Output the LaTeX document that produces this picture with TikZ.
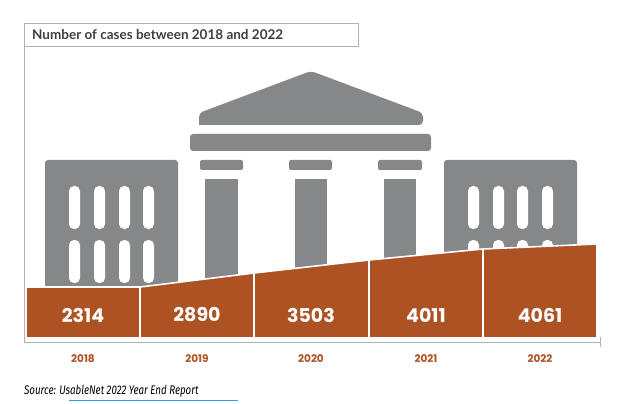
\documentclass[tikz,border=0pt]{standalone}
\usepackage{fontspec}
\setmainfont{Lato}
\newfontfamily\numfont{Poppins}
\newfontfamily\srcfont{Fira Sans}
\definecolor{bgray}{HTML}{858789}
\definecolor{rust}{HTML}{AD5223}
\definecolor{titlegray}{HTML}{3F3F3F}
\definecolor{linkblue}{HTML}{3C9BE0}
\begin{document}
\begin{tikzpicture}[x=1pt,y=-1pt,
  bld/.style={fill=bgray,draw=none},
  win/.style={fill=white,rounded corners=5pt},
  bar/.style={fill=rust,draw=white,line width=1.6pt,line join=miter},
  num/.style={text=white,font=\numfont\bfseries\fontsize{19}{20}\selectfont},
  yr/.style={text=rust,font=\numfont\bfseries\fontsize{10.5}{12}\selectfont},
  frame/.style={draw=black!30,line width=0.8pt}]
\useasboundingbox (0,0) rectangle (625,404);
% frame
\draw[frame] (24,46) -- (24,342) -- (600,342);
\draw[frame] (600,337) -- (600,347);
\node[frame,fill=white,anchor=north west,minimum width=334pt,minimum height=23pt,inner sep=0pt] (title) at (24,23) {};
\node[anchor=west,text=titlegray,font=\bfseries\fontsize{13.5}{15}\selectfont,inner sep=0pt] (ttext) at (32,35) {Number of cases between 2018 and 2022};
% central building
\fill[bld,rounded corners=4pt] (199,125) -- (199,113) -- (311,71) -- (423,113) -- (423,125) [sharp corners] -- cycle;
\fill[bld,rounded corners=3pt] (190,134) rectangle (431,151);
\foreach \a/\b in {200/243,289/332,378/422}{\fill[bld,rounded corners=2pt] (\a,160) rectangle (\b,170);}
\foreach \a/\b in {205/238,295/327,384/416}{\fill[bld] (\a,179) rectangle (\b,290);}
% left building
\fill[bld,rounded corners=3pt] (45,160) rectangle (178,292);
\foreach \a in {69,94,119,143}{
  \fill[win] (\a,186) rectangle (\a+11,229);
  \fill[win] (\a,240) rectangle (\a+11,283);}
% right building
\fill[bld,rounded corners=3pt] (444,160) rectangle (577,260);
\foreach \a in {468,493,517,542}{
  \fill[win] (\a,186) rectangle (\a+11,229);
  \fill[win] (\a,240) rectangle (\a+11,283);}
% bars
\draw[bar] (26,287) -- (140,287) -- (140,338) -- (26,338) -- cycle;
\draw[bar] (140,287) -- (254,273) -- (254,338) -- (140,338) -- cycle;
\draw[bar] (254,273) -- (369,260) -- (369,338) -- (254,338) -- cycle;
\draw[bar] (369,260) -- (483,249) -- (483,338) -- (369,338) -- cycle;
\draw[bar] (483,249) -- (597,244) -- (597,338) -- (483,338) -- cycle;
\node[num] (n1) at (83,315) {2314};
\node[num] (n2) at (197,315) {2890};
\node[num] (n3) at (311,315) {3503};
\node[num] (n4) at (426,315) {4011};
\node[num] (n5) at (540,315) {4061};
\node[yr] (y1) at (83,359) {2018};
\node[yr] (y2) at (197,359) {2019};
\node[yr] (y3) at (311,359) {2020};
\node[yr] (y4) at (426,359) {2021};
\node[yr] (y5) at (540,359) {2022};
% source
\node[anchor=west,inner sep=0pt,font=\srcfont\itshape\fontsize{12.5}{14}\selectfont] (src) at (24,391)
 {\scalebox{0.78}[1]{Source: \textcolor{black}{UsableNet 2022 Year End Report}}};
\draw[linkblue,line width=0.8pt] (69,400) -- (238,400);
\end{tikzpicture}
\end{document}
